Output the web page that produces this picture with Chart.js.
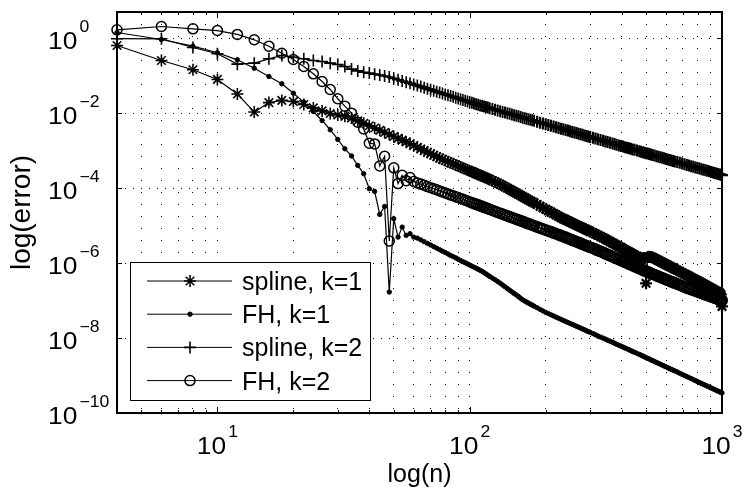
<!DOCTYPE html>
<html><head><meta charset="utf-8">
<script src="https://cdn.jsdelivr.net/npm/chart.js@4.4.1/dist/chart.umd.min.js"></script>
<style>html,body{margin:0;padding:0;background:#fff;}canvas{display:block;}</style>
</head><body>
<canvas id="c" width="744" height="493"></canvas>
<script>
const nValues = [4,6,8,10,12,14,16,18,20,22,24,26,28,30,32,34,36,38,40,42,44,46,48,50,52,54,56,58,60,62,64,66,68,70,72,74,76,78,80,
82,84,86,88,90,92,94,96,98,100,
102,104,106,108,110,112,114,116,118,120,
123,126,129,132,135,138,141,144,147,150,153,156,159,162,165,168,171,174,177,180,
185,190,195,200,205,210,215,220,225,230,235,240,245,250,255,260,265,270,275,280,285,290,295,300,
308,315,322,330,338,345,352,360,368,375,382,390,398,405,412,420,428,435,442,450,
460,470,478,485,492,500,508,515,522,530,
540,550,560,570,580,590,600,610,620,630,640,650,
665,680,695,710,725,740,755,770,785,800,815,830,845,860,875,890,905,920,935,950,965,980,990,1000];

const splineK1 = [0.638,0.254,0.144,0.0794,0.0324,0.0107,0.0191,0.0219,0.0204,0.0170,0.0138,0.0115,0.00977,8.95e-3,8.22e-3,7.40e-3,6.27e-3,5.35e-3,4.61e-3,4.01e-3,3.48e-3,3.04e-3,2.70e-3,2.39e-3,2.13e-3,1.91e-3,1.71e-3,1.53e-3,1.37e-3,1.23e-3,1.11e-3,1.00e-3,9.06e-4,8.26e-4,7.53e-4,6.92e-4,6.31e-4,5.86e-4,5.44e-4,
5.07e-4,4.73e-4,4.44e-4,4.16e-4,3.90e-4,3.66e-4,3.44e-4,3.23e-4,3.05e-4,2.88e-4,
2.73e-4,2.58e-4,2.44e-4,2.31e-4,2.20e-4,2.09e-4,1.98e-4,1.88e-4,1.79e-4,1.71e-4,
1.58e-4,1.46e-4,1.36e-4,1.26e-4,1.17e-4,1.08e-4,9.98e-5,9.23e-5,8.57e-5,7.96e-5,7.40e-5,6.87e-5,6.38e-5,5.93e-5,5.56e-5,5.21e-5,4.87e-5,4.56e-5,4.29e-5,4.03e-5,
3.64e-5,3.29e-5,3.00e-5,2.74e-5,2.50e-5,2.29e-5,2.10e-5,1.93e-5,1.77e-5,1.63e-5,1.53e-5,1.43e-5,1.34e-5,1.25e-5,1.17e-5,1.10e-5,1.04e-5,9.75e-6,9.20e-6,8.69e-6,8.22e-6,7.78e-6,7.36e-6,6.97e-6,
6.45e-6,5.97e-6,5.55e-6,5.15e-6,4.74e-6,4.37e-6,4.04e-6,3.74e-6,3.46e-6,3.21e-6,2.98e-6,2.77e-6,2.59e-6,2.42e-6,2.26e-6,2.11e-6,1.98e-6,1.85e-6,1.74e-6,1.63e-6,
1.51e-6,1.39e-6,1.36e-6,1.33e-6,1.36e-6,2.88e-7,1.45e-6,1.48e-6,1.45e-6,1.42e-6,
1.33e-6,1.25e-6,1.17e-6,1.10e-6,1.04e-6,9.75e-7,9.20e-7,8.69e-7,8.22e-7,7.78e-7,7.36e-7,6.97e-7,
6.43e-7,5.93e-7,5.51e-7,5.12e-7,4.76e-7,4.42e-7,4.12e-7,3.84e-7,3.60e-7,3.37e-7,3.15e-7,2.94e-7,2.75e-7,2.58e-7,2.41e-7,2.26e-7,2.12e-7,1.99e-7,1.88e-7,1.77e-7,1.68e-7,1.60e-7,1.45e-7,7.00e-8];

const fhK1 = [1.42,0.923,0.612,0.408,0.265,0.158,0.0952,0.0608,0.0341,0.0197,0.0111,6.38e-3,3.61e-3,1.99e-3,1.12e-3,7.22e-4,4.03e-4,2.42e-4,9.64e-5,8.17e-5,1.99e-5,3.25e-5,1.69e-7,1.53e-5,4.93e-6,9.12e-6,5.48e-6,6.08e-6,4.93e-6,4.64e-6,4.16e-6,3.72e-6,3.35e-6,3.04e-6,2.75e-6,2.50e-6,2.28e-6,2.08e-6,1.91e-6,
1.75e-6,1.60e-6,1.49e-6,1.38e-6,1.27e-6,1.17e-6,1.09e-6,1.02e-6,9.50e-7,8.85e-7,
8.30e-7,7.78e-7,7.30e-7,6.84e-7,6.41e-7,6.01e-7,5.56e-7,5.15e-7,4.77e-7,4.42e-7,
3.98e-7,3.59e-7,3.23e-7,2.91e-7,2.60e-7,2.33e-7,2.10e-7,1.89e-7,1.71e-7,1.55e-7,1.41e-7,1.28e-7,1.16e-7,1.05e-7,9.79e-8,9.12e-8,8.55e-8,8.02e-8,7.55e-8,7.10e-8,
6.43e-8,5.82e-8,5.31e-8,4.84e-8,4.49e-8,4.16e-8,3.88e-8,3.61e-8,3.37e-8,3.15e-8,2.95e-8,2.77e-8,2.61e-8,2.45e-8,2.31e-8,2.18e-8,2.06e-8,1.95e-8,1.85e-8,1.75e-8,1.66e-8,1.57e-8,1.49e-8,1.42e-8,
1.32e-8,1.22e-8,1.14e-8,1.06e-8,9.96e-9,9.35e-9,8.77e-9,8.22e-9,7.73e-9,7.27e-9,6.84e-9,6.43e-9,6.08e-9,5.75e-9,5.44e-9,5.15e-9,4.87e-9,4.61e-9,4.38e-9,4.16e-9,
3.90e-9,3.66e-9,3.49e-9,3.33e-9,3.16e-9,3.00e-9,2.87e-9,2.75e-9,2.63e-9,2.51e-9,
2.37e-9,2.23e-9,2.11e-9,1.99e-9,1.89e-9,1.79e-9,1.70e-9,1.61e-9,1.53e-9,1.46e-9,1.39e-9,1.33e-9,
1.24e-9,1.15e-9,1.07e-9,1.00e-9,9.38e-10,8.79e-10,8.27e-10,7.78e-10,7.31e-10,6.87e-10,6.48e-10,6.12e-10,5.79e-10,5.48e-10,5.19e-10,4.91e-10,4.67e-10,4.45e-10,4.22e-10,4.01e-10,3.83e-10,3.66e-10,3.55e-10,3.44e-10];

const splineK2 = [0.97,0.964,0.565,0.384,0.203,0.216,0.282,0.346,0.311,0.282,0.254,0.239,0.216,0.199,0.176,0.150,0.134,0.123,0.117,0.110,0.104,0.0982,0.0918,0.0847,0.0782,0.0722,0.0671,0.0627,0.0582,0.0545,0.0512,0.0479,0.0448,0.0424,0.0398,0.0374,0.0354,0.0335,0.0317,
0.0301,0.0286,0.0272,0.0259,0.0247,0.0236,0.0225,0.0215,0.0206,0.0198,
0.0189,0.0181,0.0174,0.0167,0.0161,0.0156,0.0151,0.0146,0.0141,0.0136,
0.0130,0.0124,0.0118,0.0113,0.0108,0.0104,9.98e-3,9.57e-3,9.20e-3,8.85e-3,8.53e-3,8.22e-3,7.90e-3,7.59e-3,7.34e-3,7.09e-3,6.86e-3,6.63e-3,6.43e-3,6.23e-3,
5.90e-3,5.58e-3,5.31e-3,5.06e-3,4.83e-3,4.61e-3,4.41e-3,4.21e-3,4.03e-3,3.86e-3,3.71e-3,3.56e-3,3.42e-3,3.29e-3,3.16e-3,3.04e-3,2.94e-3,2.84e-3,2.74e-3,2.64e-3,2.55e-3,2.47e-3,2.39e-3,2.31e-3,
2.20e-3,2.10e-3,2.01e-3,1.92e-3,1.84e-3,1.76e-3,1.69e-3,1.63e-3,1.56e-3,1.50e-3,1.44e-3,1.38e-3,1.33e-3,1.29e-3,1.24e-3,1.20e-3,1.16e-3,1.12e-3,1.08e-3,1.05e-3,
1.01e-3,9.70e-4,9.41e-4,9.12e-4,8.85e-4,8.58e-4,8.34e-4,8.11e-4,7.87e-4,7.63e-4,
7.38e-4,7.13e-4,6.87e-4,6.62e-4,6.42e-4,6.23e-4,6.02e-4,5.82e-4,5.65e-4,5.48e-4,5.31e-4,5.15e-4,
4.94e-4,4.73e-4,4.53e-4,4.34e-4,4.17e-4,4.01e-4,3.85e-4,3.70e-4,3.57e-4,3.44e-4,3.32e-4,3.21e-4,3.10e-4,3.00e-4,2.90e-4,2.81e-4,2.71e-4,2.62e-4,2.54e-4,2.47e-4,2.39e-4,2.32e-4,2.27e-4,2.23e-4];

const fhK2 = [1.67,2.05,1.78,1.60,1.26,0.906,0.612,0.398,0.270,0.176,0.112,0.0700,0.0429,0.0242,0.0154,0.0100,5.75e-3,3.80e-3,1.58e-3,1.51e-3,3.89e-4,7.08e-4,3.89e-6,3.47e-4,1.32e-4,2.19e-4,1.58e-4,1.91e-4,1.51e-4,1.38e-4,1.28e-4,1.19e-4,1.10e-4,1.03e-4,9.64e-5,9.02e-5,8.42e-5,7.92e-5,7.45e-5,
7.01e-5,6.59e-5,6.24e-5,5.90e-5,5.58e-5,5.28e-5,5.01e-5,4.76e-5,4.52e-5,4.29e-5,
4.08e-5,3.88e-5,3.71e-5,3.54e-5,3.38e-5,3.23e-5,3.09e-5,2.96e-5,2.83e-5,2.70e-5,
2.54e-5,2.39e-5,2.26e-5,2.13e-5,2.02e-5,1.91e-5,1.81e-5,1.72e-5,1.64e-5,1.56e-5,1.48e-5,1.41e-5,1.35e-5,1.29e-5,1.23e-5,1.17e-5,1.12e-5,1.08e-5,1.03e-5,9.88e-6,
9.23e-6,8.63e-6,8.12e-6,7.64e-6,7.20e-6,6.79e-6,6.40e-6,6.04e-6,5.72e-6,5.41e-6,5.12e-6,4.84e-6,4.58e-6,4.34e-6,4.10e-6,3.88e-6,3.70e-6,3.52e-6,3.35e-6,3.19e-6,3.05e-6,2.91e-6,2.78e-6,2.65e-6,
2.48e-6,2.32e-6,2.18e-6,2.05e-6,1.92e-6,1.79e-6,1.68e-6,1.58e-6,1.49e-6,1.40e-6,1.32e-6,1.25e-6,1.18e-6,1.12e-6,1.06e-6,1.00e-6,9.50e-7,9.02e-7,8.58e-7,8.17e-7,
7.66e-7,7.18e-7,6.86e-7,6.55e-7,6.27e-7,6.01e-7,5.78e-7,5.55e-7,5.33e-7,5.12e-7,
4.88e-7,4.65e-7,4.41e-7,4.18e-7,3.99e-7,3.81e-7,3.64e-7,3.48e-7,3.33e-7,3.19e-7,3.06e-7,2.93e-7,
2.75e-7,2.59e-7,2.44e-7,2.29e-7,2.18e-7,2.07e-7,1.97e-7,1.88e-7,1.80e-7,1.72e-7,1.64e-7,1.57e-7,1.50e-7,1.44e-7,1.38e-7,1.32e-7,1.27e-7,1.22e-7,1.17e-7,1.13e-7,1.08e-7,1.04e-7,1.02e-7,1.01e-7];

const seriesLabels = ['spline, k=1', 'FH, k=1', 'spline, k=2', 'FH, k=2'];
const xTickValues = [5,6,7,8,9,10,20,30,40,50,60,70,80,90,100,200,300,400,500,600,700,800,900,1000];
const xLabelExponents = [1, 2, 3];
const yLabelExponents = [0, -2, -4, -6, -8, -10];
const xTitle = 'log(n)';
const yTitle = 'log(error)';

const FONT = '"Liberation Sans", Arial, Helvetica, sans-serif';
const seriesValues = [splineK1, fhK1, splineK2, fhK2];
const markerStyles = [
  {style: 'star', r: 6, fill: false, w: 1.6, wDense: 2.2},
  {style: 'circle', r: 2.2, fill: true, w: 1, wDense: 1},
  {style: 'cross', r: 6, fill: false, w: 1.6, wDense: 2.2},
  {style: 'circle', r: 5, fill: false, w: 1.5, wDense: 2.1}
];

function expText(e) { return e < 0 ? '\u2212' + Math.abs(e) : String(e); }

function drawStretched(ctx, text, x, y, font, sx) {
  ctx.save();
  ctx.font = font;
  ctx.translate(x, y);
  ctx.scale(sx, 1);
  ctx.fillText(text, 0, 0);
  ctx.restore();
}

function drawMarker(ctx, m, x, y) {
  ctx.save();
  ctx.lineWidth = m.w;
  ctx.beginPath();
  if (m.style === 'circle') {
    ctx.arc(x, y, m.r, 0, Math.PI * 2);
    if (m.fill) { ctx.fillStyle = '#000'; ctx.fill(); }
    ctx.stroke();
  } else {
    ctx.moveTo(x - m.r, y); ctx.lineTo(x + m.r, y);
    ctx.moveTo(x, y - m.r); ctx.lineTo(x, y + m.r);
    if (m.style === 'star') {
      const d = m.r * Math.SQRT1_2;
      ctx.moveTo(x - d, y - d); ctx.lineTo(x + d, y + d);
      ctx.moveTo(x - d, y + d); ctx.lineTo(x + d, y - d);
    }
    ctx.stroke();
  }
  ctx.restore();
}

const matlabAxes = {
  id: 'matlabAxes',
  beforeDatasetsDraw(chart) {
    const {ctx, chartArea: a, scales: {x, y}} = chart;
    ctx.save();
    ctx.strokeStyle = '#000';
    ctx.lineWidth = 1;
    ctx.beginPath();
    xTickValues.forEach(v => {
      const px = Math.round(x.getPixelForValue(v)) + 0.5;
      const lg = Math.log10(v);
      const len = Math.abs(lg - Math.round(lg)) < 1e-9 ? 6 : 3;
      ctx.moveTo(px, a.bottom); ctx.lineTo(px, a.bottom - len);
      ctx.moveTo(px, a.top); ctx.lineTo(px, a.top + len);
    });
    yLabelExponents.forEach(e => {
      const py = Math.round(y.getPixelForValue(Math.pow(10, e))) + 0.5;
      ctx.moveTo(a.left, py); ctx.lineTo(a.left + 5, py);
      ctx.moveTo(a.right, py); ctx.lineTo(a.right - 5, py);
    });
    ctx.stroke();
    ctx.lineWidth = 2;
    ctx.strokeRect(a.left, a.top, a.right - a.left, a.bottom - a.top);
    ctx.restore();
  },
  afterDatasetsDraw(chart) {
    const {ctx, chartArea: a, scales: {x, y}} = chart;
    ctx.save();
    ctx.fillStyle = '#000';
    ctx.textAlign = 'left';
    ctx.textBaseline = 'alphabetic';
    const base = '24px ' + FONT, sup = '16px ' + FONT, sx = 1.1;
    yLabelExponents.forEach(e => {
      const py = y.getPixelForValue(Math.pow(10, e));
      drawStretched(ctx, '10', 48, py + 10.6, base, sx);
      drawStretched(ctx, expText(e), 79.5, py - 6.3, sup, sx);
    });
    xLabelExponents.forEach(e => {
      const px = x.getPixelForValue(Math.pow(10, e));
      ctx.font = base; const w1 = ctx.measureText('10').width * sx;
      const t = expText(e);
      ctx.font = sup; const w2 = ctx.measureText(t).width * sx;
      const start = px - (w1 + 2 + w2) / 2;
      drawStretched(ctx, '10', start, a.bottom + 41, base, sx);
      drawStretched(ctx, t, start + w1 + 2, a.bottom + 23.7, sup, sx);
    });
    // legend
    const box = {left: 130, top: 262, right: 370, bottom: 400};
    ctx.fillStyle = '#fff';
    ctx.fillRect(box.left, box.top, box.right - box.left, box.bottom - box.top);
    ctx.strokeStyle = '#000';
    ctx.lineWidth = 1;
    ctx.strokeRect(box.left + 0.5, box.top + 0.5, box.right - box.left, box.bottom - box.top);
    chart.data.datasets.forEach((ds, i) => {
      const ry = box.top + 19 + i * 33.2;
      ctx.lineWidth = 1;
      ctx.beginPath();
      ctx.moveTo(147, ry); ctx.lineTo(232, ry);
      ctx.stroke();
      drawMarker(ctx, markerStyles[i], 190, ry);
      ctx.fillStyle = '#000';
      ctx.font = '25px ' + FONT;
      ctx.fillText(ds.label, 242, ry + 9);
    });
    ctx.restore();
  }
};

const datasets = seriesValues.map((vals, i) => {
  const m = markerStyles[i];
  return {
    label: seriesLabels[i],
    data: nValues.map((n, j) => ({x: n, y: vals[j]})),
    borderColor: '#000',
    borderWidth: 1.2,
    pointStyle: m.style,
    pointRadius: m.r,
    pointBorderColor: '#000',
    pointBackgroundColor: m.fill ? '#000' : 'rgba(0,0,0,0)',
    pointBorderWidth: c => (c.raw && c.raw.x > 180) ? m.wDense : (c.raw && c.raw.x > 100 ? (m.w + m.wDense) / 2 : m.w),
    tension: 0,
    fill: false,
    clip: false,
    order: -i
  };
});

new Chart(document.getElementById('c'), {
  type: 'line',
  data: {datasets},
  options: {
    responsive: false,
    animation: false,
    devicePixelRatio: 1,
    events: [],
    layout: {padding: {top: 12, right: 22, left: 0, bottom: 0}},
    plugins: {legend: {display: false}, tooltip: {enabled: false}},
    scales: {
      x: {
        type: 'logarithmic', min: 4, max: 1000, position: 'bottom',
        afterBuildTicks: s => { s.ticks = xTickValues.filter(v => v < 1000).map(v => ({value: v})); },
        afterFit: s => { s.height = 80; },
        ticks: {display: false},
        grid: {drawTicks: false, color: '#000', lineWidth: 1},
        border: {display: false, dash: [1, 11]},
        title: {display: true, text: xTitle, color: '#000', font: {family: FONT, size: 25}, padding: {top: 0, bottom: 3}}
      },
      y: {
        type: 'logarithmic', min: 1e-10, max: 5, position: 'left',
        afterBuildTicks: s => { s.ticks = yLabelExponents.filter(e => e > -10).map(e => ({value: Math.pow(10, e)})); },
        afterFit: s => { s.width = 117; },
        ticks: {display: false},
        grid: {drawTicks: false, color: '#000', lineWidth: 1},
        border: {display: false, dash: [1, 7]},
        title: {display: true, text: yTitle, color: '#000', font: {family: FONT, size: 28}, padding: {top: 5, bottom: 0}}
      }
    }
  },
  plugins: [matlabAxes]
});
</script>
</body></html>
